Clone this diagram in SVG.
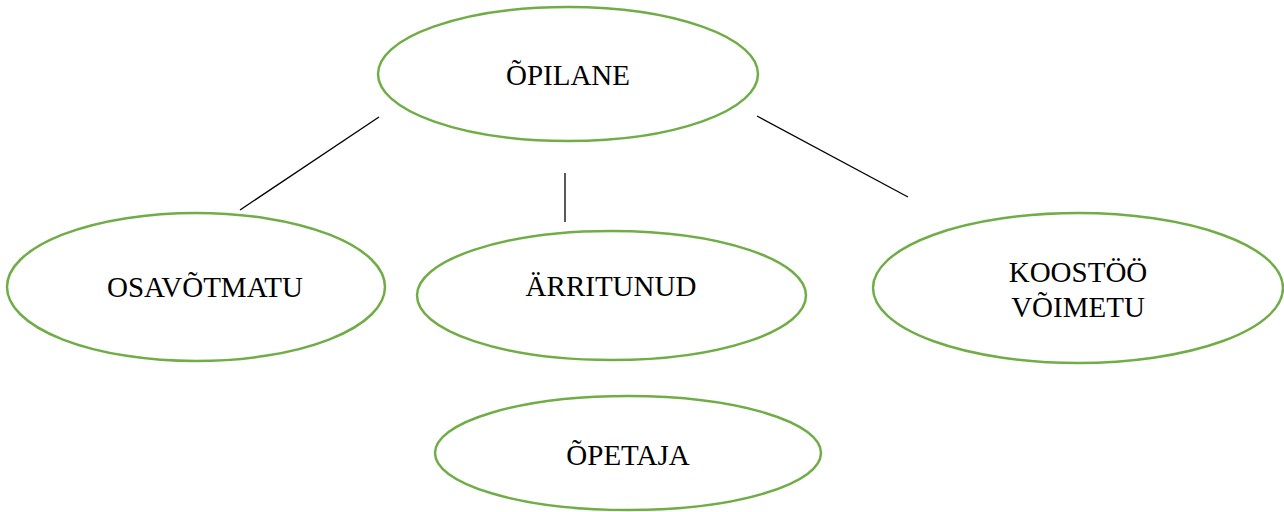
<svg xmlns="http://www.w3.org/2000/svg" width="1284" height="512" viewBox="0 0 1284 512">
<style>
.n{fill:#fff;stroke:#70AD47;stroke-width:2.5}
.t{font-family:"Liberation Serif","Times New Roman",serif;font-size:29px;fill:#000;text-anchor:middle}
.c{stroke:#000;stroke-width:1.3;fill:none}
</style>
<rect width="1284" height="512" fill="#fff"/>
<g id="connectors">
<line class="c" x1="379" y1="117" x2="240" y2="210"/>
<line class="c" x1="565" y1="173" x2="565" y2="222"/>
<line class="c" x1="757" y1="116" x2="908" y2="197"/>
</g>
<g id="opilane">
<ellipse class="n" cx="568" cy="74" rx="190" ry="67"/>
<text class="t" x="568" y="85">ÕPILANE</text>
</g>
<g id="osavotmatu">
<ellipse class="n" cx="196" cy="287" rx="189" ry="74"/>
<text class="t" x="205" y="297">OSAVÕTMATU</text>
</g>
<g id="arritunud">
<ellipse class="n" cx="611.5" cy="295.5" rx="194.5" ry="64.5"/>
<text class="t" x="611" y="296">ÄRRITUNUD</text>
</g>
<g id="koostoo">
<ellipse class="n" cx="1078" cy="288" rx="205" ry="75"/>
<text class="t" x="1078" y="282">KOOSTÖÖ</text>
<text class="t" x="1078" y="317">VÕIMETU</text>
</g>
<g id="opetaja">
<ellipse class="n" cx="628" cy="453" rx="193" ry="57"/>
<text class="t" x="628" y="465">ÕPETAJA</text>
</g>
</svg>
